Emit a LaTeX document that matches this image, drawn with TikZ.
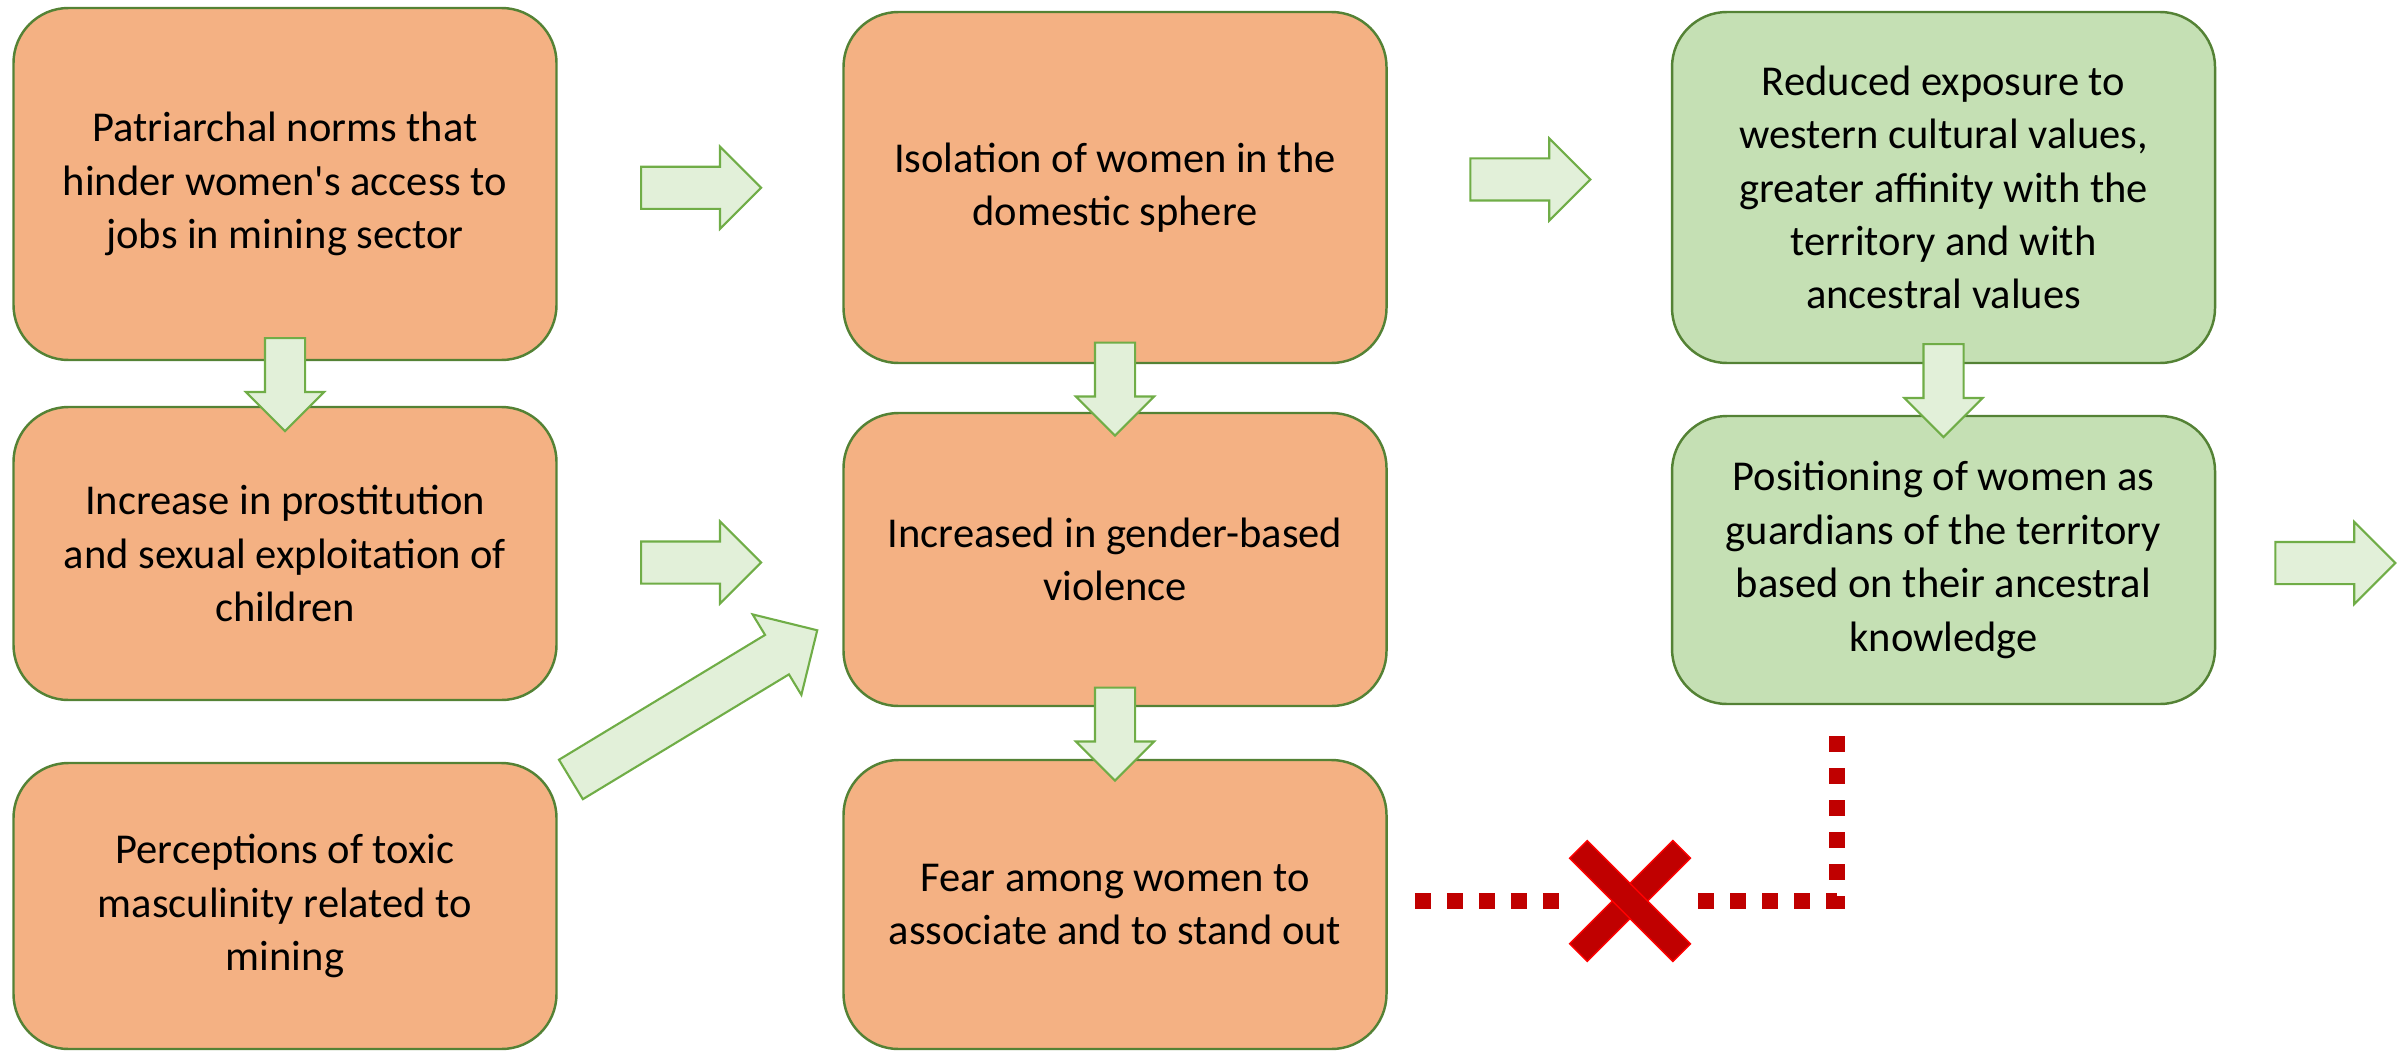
\documentclass[tikz,border=0pt]{standalone}
\usepackage{fontspec}
\setmainfont{Carlito}
\usetikzlibrary{calc}
\usetikzlibrary{shapes.arrows}
\definecolor{boxorange}{HTML}{F4B183}
\definecolor{boxgreen}{HTML}{C5E0B4}
\definecolor{boxline}{HTML}{548235}
\definecolor{arrowfill}{HTML}{E2F0D9}
\definecolor{arrowline}{HTML}{70AD47}
\definecolor{stopred}{HTML}{C00000}

\begin{document}
\begin{tikzpicture}[
  box/.style={draw=boxline, line width=0.7pt, rounded corners=0.55cm, minimum width=5.43cm, align=center, inner sep=0pt, font=\fontsize{12.1}{15.2}\selectfont},
  cause/.style={box, fill=boxorange},
  guard/.style={box, fill=boxgreen},
  fat/.style={single arrow, draw=arrowline, fill=arrowfill, line width=0.6pt, single arrow tip angle=90, inner xsep=0pt, inner ysep=0.2cm, single arrow head extend=0.2cm, minimum width=0.8cm, minimum height=1.2cm, anchor=tail},
  fatdown/.style={fat, rotate=-90, inner ysep=0.19cm, single arrow head extend=0.19cm, minimum width=0.76cm, minimum height=0.93cm},
  blocked/.style={draw=stopred, line width=0.16cm, dash pattern=on 0.16cm off 0.16cm}
]
\useasboundingbox (0,0) rectangle (24,-10.54);
% first column
\node[cause, minimum height=3.52cm] (A1) at (2.85,-1.84) {Patriarchal norms that\\hinder women\textquotesingle s access to\\jobs in mining sector};
\node[cause, minimum height=2.93cm] (A2) at (2.85,-5.535) {Increase in prostitution\\and sexual exploitation of\\children};
\node[cause, minimum height=2.86cm] (A3) at (2.85,-9.06) {Perceptions of toxic\\masculinity related to\\mining};
% second column
\node[cause, minimum height=3.51cm] (B1) at (11.15,-1.875) {Isolation of women in the\\domestic sphere};
\node[cause, minimum height=2.93cm] (B2) at (11.15,-5.595) {Increased in gender-based\\violence};
\node[cause, minimum height=2.89cm] (B3) at (11.15,-9.045) {Fear among women to\\associate and to stand out};
% third column
\node[guard, minimum height=3.51cm] (C1) at (19.435,-1.875) {Reduced exposure to\\western cultural values,\\greater affinity with the\\territory and with\\ancestral values};
\node[guard, minimum height=2.88cm] (C2) at (19.435,-5.60) {Positioning of women as\\guardians of the territory\\based on their ancestral\\knowledge};
% block arrows
\node[fat] (a1b1) at ($(A1.east)!.5!(B1.west)+(-0.6,-0.02)$) {};
\node[fat] (b1c1) at ($(B1.east)!.5!(C1.west)+(-0.6,0.08)$) {};
\node[fat] (a2b2) at ($(A2.east)!.5!(B2.west)+(-0.6,-0.06)$) {};
\node[fat] (c2out) at ($(C2.east)+(0.58,-0.03)$) {};
\node[fatdown] (a1a2) at ($(A1.south)!.5!(A2.north)+(0,0.465)$) {};
\node[fatdown] (b1b2) at ($(B1.south)!.5!(B2.north)+(0,0.465)$) {};
\node[fatdown] (b2b3) at ($(B2.south)!.5!(B3.north)+(0,0.465)$) {};
\node[fatdown] (c1c2) at ($(C1.south)!.5!(C2.north)+(0,0.465)$) {};
\node[fat, rotate=31.2, inner ysep=0.22cm, single arrow head extend=0.24cm, minimum width=0.92cm, minimum height=2.88cm] (a3b2) at (5.70,-7.80) {};
% broken link
\node[minimum size=1.21cm, inner sep=0pt] (stop) at (16.30,-9.01) {};
\draw[blocked] ($(C2.south)+(-1.065,-0.31)$) |- (stop.east);
\draw[blocked] ($(B3.east |- stop)+(0.27,0)$) -- (stop.west);
\foreach \ang in {45,-45}
  \filldraw[fill=stopred, draw=red, line width=0.4pt, shift={(stop)}, rotate=\ang] (-0.73,-0.125) -- (0.73,-0.125) -- (0.73,0.125) -- (-0.73,0.125) -- cycle;
\end{tikzpicture}
\end{document}
